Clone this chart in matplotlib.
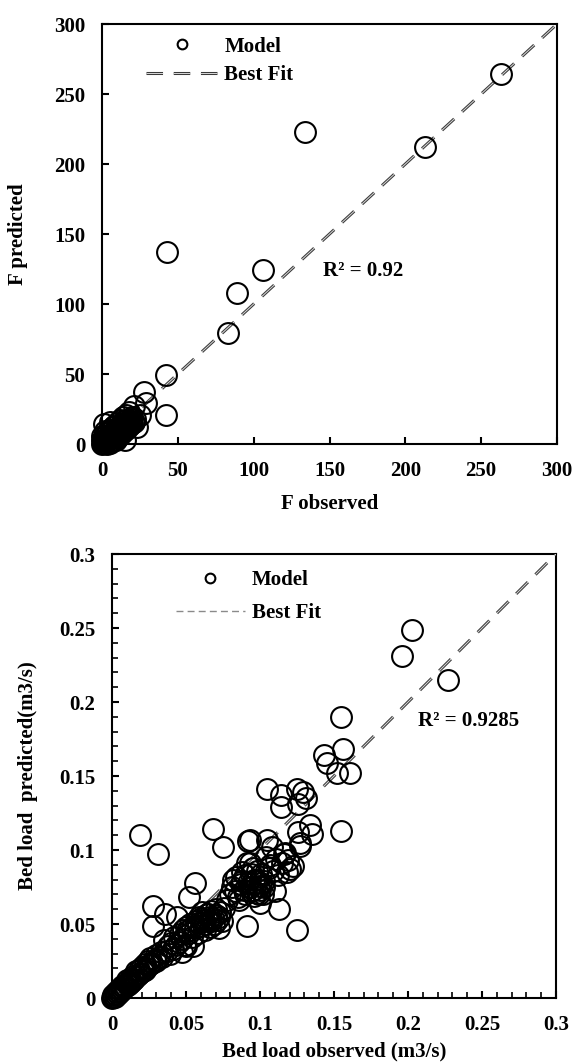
import matplotlib
matplotlib.use("Agg")
import matplotlib.pyplot as plt
import matplotlib.patheffects as pe
from matplotlib.lines import Line2D
from matplotlib.ticker import MultipleLocator

plt.rcParams.update({
    "font.family": "Liberation Serif",
    "font.weight": "bold",
    "font.size": 15,
    "axes.linewidth": 1.5,
})

# Top panel: F observed vs F predicted
f_obs = [263, 213, 134, 43, 106, 89, 83, 42, 42, 28, 29, 25, 21, 16, 23, 15, 1, 5,
         0, 0.5, 1, 1, 2, 2, 3, 3, 4, 4, 5, 5, 6, 6, 7, 7, 8, 8, 9, 9, 10, 10, 11, 11,
         12, 12, 13, 13, 14, 14, 15, 16, 17, 18, 19, 20, 3, 6, 8, 10, 12, 14, 16, 18,
         5, 8, 10, 12, 14, 16, 18, 20, 2, 4, 7, 9, 11, 13, 15, 17, 19, 21, 22, 1, 2,
         0, 3, 6, 0]
f_pred = [264, 212, 223, 137, 124, 108, 79, 49, 21, 37, 29, 21, 27, 17, 12, 3, 14, 16,
          0, 1, 0.5, 2, 1, 3, 2, 4, 3, 5, 4, 6, 5, 7, 6, 8, 7, 9, 8, 10, 9, 11, 10, 12,
          11, 13, 12, 14, 13, 15, 14, 15, 16, 17, 18, 19, 8, 10, 13, 15, 17, 19, 21, 23,
          1, 3, 5, 7, 9, 11, 13, 15, 6, 9, 12, 3, 6, 8, 10, 12, 14, 16, 18, 5, 9,
          3, 0, 2, 6]
r2_top = "R² = 0.92"

# Bottom panel: bed load observed vs predicted (m3/s)
bl_obs = [0.000, 0.001, 0.001, 0.002, 0.002, 0.003, 0.003, 0.004, 0.004, 0.005,
          0.005, 0.006, 0.006, 0.007, 0.007, 0.008, 0.008, 0.009, 0.010, 0.010,
          0.011, 0.012, 0.013, 0.014, 0.015, 0.016, 0.017, 0.018, 0.019, 0.020,
          0.021, 0.022, 0.023, 0.024, 0.025, 0.026, 0.027, 0.028, 0.028, 0.019,
          0.031, 0.029, 0.030, 0.032, 0.033, 0.035, 0.036, 0.037, 0.038, 0.040,
          0.041, 0.042, 0.044, 0.045, 0.046, 0.047, 0.048, 0.049, 0.050, 0.050,
          0.052, 0.052, 0.053, 0.054, 0.055, 0.056, 0.056, 0.057, 0.058, 0.059,
          0.060, 0.061, 0.062, 0.063, 0.064, 0.065, 0.066, 0.066, 0.067, 0.068,
          0.068, 0.069, 0.070, 0.071, 0.072, 0.073, 0.074, 0.075, 0.076, 0.078,
          0.080, 0.081, 0.082, 0.083, 0.084, 0.085, 0.086, 0.087, 0.088, 0.089,
          0.090, 0.091, 0.091, 0.092, 0.093, 0.093, 0.094, 0.095, 0.095, 0.096,
          0.097, 0.098, 0.099, 0.100, 0.100, 0.101, 0.102, 0.103, 0.104, 0.105,
          0.105, 0.106, 0.108, 0.110, 0.112, 0.113, 0.114, 0.114, 0.115, 0.117,
          0.119, 0.120, 0.122, 0.125, 0.125, 0.126, 0.127, 0.127, 0.129, 0.131,
          0.134, 0.135, 0.143, 0.145, 0.152, 0.155, 0.155, 0.156, 0.161, 0.196,
          0.203, 0.227, 0.126, 0.093, 0.034, 0.039, 0.043, 0.047, 0.051, 0.054,
          0.058, 0.060, 0.063, 0.065, 0.067, 0.070, 0.072, 0.088, 0.090, 0.092,
          0.094, 0.096, 0.098, 0.099, 0.101, 0.103, 0.107, 0.109, 0.111, 0.116,
          0.118, 0.012, 0.014, 0.018, 0.022, 0.026, 0.030]
bl_pred = [0.000, 0.001, 0.002, 0.001, 0.003, 0.002, 0.004, 0.003, 0.005, 0.004,
           0.006, 0.005, 0.007, 0.006, 0.008, 0.007, 0.009, 0.008, 0.010, 0.012,
           0.009, 0.013, 0.011, 0.015, 0.013, 0.018, 0.015, 0.019, 0.017, 0.021,
           0.018, 0.023, 0.020, 0.025, 0.022, 0.027, 0.024, 0.062, 0.049, 0.110,
           0.097, 0.026, 0.029, 0.028, 0.031, 0.039, 0.057, 0.032, 0.035, 0.037,
           0.033, 0.041, 0.055, 0.038, 0.043, 0.031, 0.046, 0.036, 0.048, 0.035,
           0.068, 0.044, 0.050, 0.041, 0.035, 0.078, 0.047, 0.052, 0.044, 0.055,
           0.049, 0.058, 0.053, 0.046, 0.057, 0.052, 0.055, 0.048, 0.059, 0.054,
           0.114, 0.050, 0.056, 0.053, 0.047, 0.058, 0.052, 0.102, 0.061, 0.066,
           0.070, 0.075, 0.080, 0.072, 0.082, 0.068, 0.066, 0.077, 0.085, 0.073,
           0.070, 0.049, 0.091, 0.106, 0.075, 0.107, 0.072, 0.073, 0.088, 0.069,
           0.080, 0.071, 0.076, 0.073, 0.064, 0.084, 0.070, 0.079, 0.095, 0.107,
           0.141, 0.088, 0.102, 0.072, 0.083, 0.060, 0.137, 0.129, 0.091, 0.098,
           0.093, 0.087, 0.089, 0.046, 0.141, 0.112, 0.105, 0.103, 0.139, 0.135,
           0.117, 0.111, 0.164, 0.159, 0.152, 0.113, 0.190, 0.168, 0.152, 0.231,
           0.249, 0.215, 0.131, 0.091, 0.028, 0.030, 0.036, 0.040, 0.045, 0.048,
           0.051, 0.054, 0.050, 0.057, 0.052, 0.060, 0.055, 0.079, 0.083, 0.078,
           0.084, 0.080, 0.086, 0.070, 0.078, 0.075, 0.090, 0.086, 0.094, 0.097,
           0.085, 0.010, 0.012, 0.016, 0.019, 0.023, 0.025]
r2_bottom = "R² = 0.9285"

FIT_EFFECTS = [pe.Stroke(linewidth=2.2, foreground="#3a3a3a"), pe.Normal()]


def hollow_dash(ax, lim):
    ln, = ax.plot([0, lim], [0, lim], color="#d8d8d8", lw=0.7, zorder=4,
                  path_effects=FIT_EFFECTS)
    ln.set_dashes((17, 11))
    return ln


def style_axes(ax, lim, step, minor=None):
    ax.set_xlim(0, lim)
    ax.set_ylim(0, lim)
    ax.xaxis.set_major_locator(MultipleLocator(step))
    ax.yaxis.set_major_locator(MultipleLocator(step))
    if minor:
        ax.xaxis.set_minor_locator(MultipleLocator(minor))
        ax.yaxis.set_minor_locator(MultipleLocator(minor))
    ax.tick_params(which="major", direction="in", length=5, width=1.5,
                   top=False, right=False, pad=12, labelsize=15)
    ax.tick_params(which="minor", direction="in", length=4, width=1.2,
                   top=False, right=False)
    for lab in ax.get_xticklabels() + ax.get_yticklabels():
        lab.set_fontweight("bold")


def legend(ax, anchor, handlelength, dash_handle, spacing):
    handles = [
        Line2D([], [], ls="none", marker="o", ms=7, mfc="none", mec="black", mew=1.5),
        dash_handle,
    ]
    ax.legend(handles, ["Model", "Best Fit"], loc="upper left", bbox_to_anchor=anchor,
              frameon=False, borderpad=0, borderaxespad=0, handlelength=handlelength,
              handletextpad=0.35, labelspacing=spacing,
              prop={"family": "Liberation Serif", "weight": "bold", "size": 15})


fig = plt.figure(figsize=(5.74, 10.63), dpi=100)

# --- top panel ---
ax1 = fig.add_axes([0.1777, 0.5823, 0.7927, 0.3951])
hollow_dash(ax1, 300)
ax1.plot(f_obs, f_pred, ls="none", marker="o", ms=15, mfc="none", mec="black",
         mew=1.5, zorder=5, clip_on=False)
style_axes(ax1, 300, 50)
ax1.set_xlabel("F observed", fontweight="bold", fontsize=15)
ax1.set_ylabel("F predicted", fontweight="bold", fontsize=15)
ax1.xaxis.set_label_coords(0.5, -0.119)
ax1.yaxis.set_label_coords(-0.163, 0.5)
ax1.text(0.486, 0.412, r2_top, transform=ax1.transAxes, ha="left", va="center",
         fontweight="bold", fontsize=15)
h1 = Line2D([], [], color="#d8d8d8", lw=0.7, path_effects=FIT_EFFECTS, dashes=(17, 11))
legend(ax1, (0.097, 0.97), 3.4, h1, 0.4)

# --- bottom panel ---
ax2 = fig.add_axes([0.1951, 0.0611, 0.7735, 0.4177])
hollow_dash(ax2, 0.3)
ax2.plot(bl_obs, bl_pred, ls="none", marker="o", ms=15, mfc="none", mec="black",
         mew=1.5, zorder=5, clip_on=False)
style_axes(ax2, 0.3, 0.05, minor=0.01)
ax2.xaxis.set_major_formatter(lambda v, p: f"{v:g}")
ax2.yaxis.set_major_formatter(lambda v, p: f"{v:g}")
ax2.set_xlabel("Bed load observed (m3/s)", fontweight="bold", fontsize=15)
ax2.set_ylabel("Bed load  predicted(m3/s)", fontweight="bold", fontsize=15)
ax2.xaxis.set_label_coords(0.5, -0.097)
ax2.yaxis.set_label_coords(-0.167, 0.5)
ax2.text(0.689, 0.624, r2_bottom, transform=ax2.transAxes, ha="left", va="center",
         fontweight="bold", fontsize=15)
h2 = Line2D([], [], color="#8a8a8a", lw=1.0, dashes=(5, 3))
legend(ax2, (0.144, 0.963), 3.3, h2, 0.6)

fig.savefig("out.png", dpi=100)
